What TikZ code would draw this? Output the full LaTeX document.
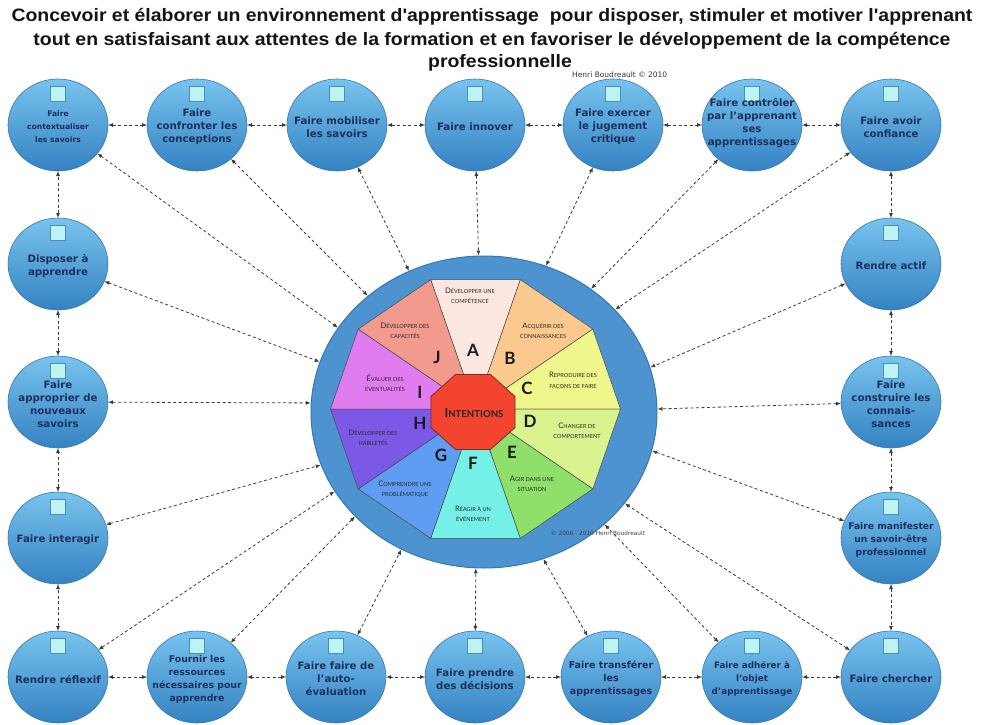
\documentclass[tikz,border=0pt]{standalone}
\usepackage{fontspec}
\setmainfont{DejaVu Sans}
\newfontfamily\titlefont{Liberation Sans}
\newfontfamily\segfont{Lato}
\usetikzlibrary{arrows.meta,shapes.geometric}
\definecolor{nodeTop}{HTML}{78C3EE}
\definecolor{nodeBot}{HTML}{3482C2}
\definecolor{nodeEdge}{HTML}{3677B3}
\definecolor{nodeText}{HTML}{1E2F5C}
\definecolor{sqFill}{HTML}{BDF3F0}
\definecolor{sqEdge}{HTML}{4A8CBE}
\definecolor{ringFill}{HTML}{4C93CF}
\definecolor{ringEdge}{HTML}{3A78B0}
\definecolor{conn}{HTML}{3C3C3C}
\definecolor{cA}{HTML}{FBE7DF}
\definecolor{cB}{HTML}{FBC98E}
\definecolor{cC}{HTML}{EEF68C}
\definecolor{cD}{HTML}{D9F38E}
\definecolor{cE}{HTML}{8EE06A}
\definecolor{cF}{HTML}{74F0E6}
\definecolor{cG}{HTML}{5E9DF2}
\definecolor{cH}{HTML}{7B58E6}
\definecolor{cI}{HTML}{E07CF0}
\definecolor{cJ}{HTML}{F29A8E}
\definecolor{cOct}{HTML}{F2442E}
\definecolor{octEdge}{HTML}{7A2A1E}
\definecolor{segLine}{HTML}{4A4A4A}
\definecolor{segText}{HTML}{2A2A2A}
\newcommand\Cp[1]{{\fontsize{7.6}{10.5}\selectfont #1}}
\newcommand\Sc[1]{{\fontsize{5.6}{10.5}\selectfont #1}}
\newcommand\Ttl[1]{\scalebox{1.08}[1]{#1}}
\newcommand\pnode[5][]{%
  \node[pn] (#2) at (#3,#4) {};
  \draw[sq] ([shift={(-7.5,-38.5)}]#2.center) rectangle ++(15,15);
  \node[ptxt,#1] (#2t) at ({#3},{#4+2}) {#5};
}
\begin{document}
\begin{tikzpicture}[x=1pt,y=-1pt,
  pn/.style={ellipse, minimum width=100, minimum height=92, inner sep=0, outer sep=0,
    top color=nodeTop, bottom color=nodeBot, draw=nodeEdge, line width=0.6},
  ptxt/.style={align=center, text=nodeText, font=\bfseries\fontsize{10.2}{13}\selectfont, inner sep=0},
  fs/.style={font=\bfseries\fontsize{#1}{13}\selectfont},
  sq/.style={fill=sqFill, draw=sqEdge, line width=0.6},
  conn/.style={draw=conn, line width=0.8, dash pattern=on 3pt off 2.5pt,
    arrows={Latex[length=5,width=4]-Latex[length=5,width=4]}},
  segtxt/.style={align=center, text=segText, font=\segfont\fontsize{5.6}{10.5}\selectfont, inner sep=0},
  letter/.style={text=black!90, font=\segfont\bfseries\fontsize{17}{17}\selectfont, inner sep=0},
  ttl/.style={font=\titlefont\bfseries\fontsize{18}{20}\selectfont, text=black!92, inner sep=0}
]
\useasboundingbox (0,0) rectangle (983,725);
\fill[white] (0,0) rectangle (983,725);

% title
\node[ttl] (t1) at (492,17) {\Ttl{Concevoir et élaborer un environnement d'apprentissage\ \ pour disposer, stimuler et motiver l'apprenant}};
\node[ttl] (t2) at (492,41) {\Ttl{tout en satisfaisant aux attentes de la formation et en favoriser le développement de la compétence}};
\node[ttl] (t3) at (500,63) {\Ttl{professionnelle}};
\node[anchor=west, inner sep=0, font=\fontsize{7.5}{9}\selectfont, text=black!80] (hb) at (572,75) {Henri Boudreault © 2010};

% central ring
\node[ellipse, minimum width=346, minimum height=312, inner sep=0, fill=ringFill, draw=ringEdge, line width=1] (ring) at (484,412) {};

% decagon
\begin{scope}[shift={(475.5,409)}, y=1pt]
  \foreach \a/\c in {72/cA,36/cB,0/cC,-36/cD,-72/cE,-108/cF,-144/cG,-180/cH,-216/cI,-252/cJ}
    \filldraw[fill=\c, draw=segLine, line width=0.5] (0,0) -- (\a:145 and 136) -- (\a+36:145 and 136) -- cycle;
\end{scope}
\begin{scope}[shift={(473,412)}, y=1pt]
  \filldraw[fill=cOct, draw=octEdge, line width=0.8]
    (22.5:45.5 and 40.6) -- (67.5:45.5 and 40.6) -- (112.5:45.5 and 40.6) -- (157.5:45.5 and 40.6)
    -- (202.5:45.5 and 40.6) -- (247.5:45.5 and 40.6) -- (292.5:45.5 and 40.6) -- (337.5:45.5 and 40.6) -- cycle;
\end{scope}
\node[inner sep=0, text=black!85, font=\segfont\bfseries] (intent) at (474,413) {{\fontsize{12.5}{12}\selectfont I}{\fontsize{9.6}{12}\selectfont NTENTIONS}};

% segment texts
\node[segtxt] (sA) at (470,296) {\Cp{D}\Sc{ÉVELOPPER UNE}\\\Sc{COMPÉTENCE}};
\node[segtxt] (sB) at (543,331) {\Cp{A}\Sc{CQUÉRIR DES}\\\Sc{CONNAISSANCES}};
\node[segtxt] (sC) at (573,381) {\Cp{R}\Sc{EPRODUIRE DES}\\\Sc{FAÇONS DE FAIRE}};
\node[segtxt] (sD) at (577,431) {\Cp{C}\Sc{HANGER DE}\\\Sc{COMPORTEMENT}};
\node[segtxt] (sE) at (532,484) {\Cp{A}\Sc{GIR DANS UNE}\\\Sc{SITUATION}};
\node[segtxt] (sF) at (473,514) {\Cp{R}\Sc{ÉAGIR À UN}\\\Sc{ÉVÉNEMENT}};
\node[segtxt] (sG) at (405,489) {\Cp{C}\Sc{OMPRENDRE UNE}\\\Sc{PROBLÉMATIQUE}};
\node[segtxt] (sH) at (373,438) {\Cp{D}\Sc{ÉVELOPPER DES}\\\Sc{HABILETÉS}};
\node[segtxt] (sI) at (385,383) {\Cp{É}\Sc{VALUER DES}\\\Sc{ÉVENTUALITÉS}};
\node[segtxt] (sJ) at (405,331) {\Cp{D}\Sc{ÉVELOPPER DES}\\\Sc{CAPACITÉS}};

% letters
\node[letter] (lA) at (473,350) {A};
\node[letter] (lB) at (510,358) {B};
\node[letter] (lC) at (527,388) {C};
\node[letter] (lD) at (530,421) {D};
\node[letter] (lE) at (512,452) {E};
\node[letter] (lF) at (473,463) {F};
\node[letter] (lG) at (441,455) {G};
\node[letter] (lH) at (420,423) {H};
\node[letter] (lI) at (420,392) {I};
\node[letter] (lJ) at (437,357) {J};

\node[inner sep=0, text=black!75, font=\fontsize{5.8}{6}\selectfont] (copy) at (598,533) {© 2006 - 2010 Henri Boudreault};

% perimeter nodes
\pnode[fs=7.6]{n1}{58}{125}{Faire\\contextualiser\\les savoirs}
\pnode{n2}{197}{125}{Faire\\confronter les\\conceptions}
\pnode{n3}{337}{125}{Faire mobiliser\\les savoirs}
\pnode{n4}{475}{125}{Faire innover}
\pnode{n5}{613}{125}{Faire exercer\\le jugement\\critique}
\pnode[yshift=4pt]{n6}{752}{125}{Faire contrôler\\par l'apprenant\\ses\\apprentissages}
\pnode{n7}{891}{125}{Faire avoir\\confiance}
\pnode{n8}{891}{264}{Rendre actif}
\pnode{n9}{891}{402}{Faire\\construire les\\connais-\\sances}
\pnode[fs=9.2]{n10}{891}{538}{Faire manifester\\un savoir-être\\professionnel}
\pnode{n11}{891}{677}{Faire chercher}
\pnode[fs=8.8]{n12}{752}{677}{Faire adhérer à\\l'objet\\d'apprentissage}
\pnode[fs=9.5]{n13}{611}{677}{Faire transférer\\les\\apprentissages}
\pnode{n14}{475}{677}{Faire prendre\\des décisions}
\pnode{n15}{336}{677}{Faire faire de\\l'auto-\\évaluation}
\pnode[fs=9.3]{n16}{197}{677}{Fournir les\\ressources\\nécessaires pour\\apprendre}
\pnode{n17}{58}{677}{Rendre réflexif}
\pnode{n18}{58}{538}{Faire interagir}
\pnode{n19}{58}{402}{Faire\\approprier de\\nouveaux\\savoirs}
\pnode{n20}{58}{264}{Disposer à\\apprendre}

% perimeter links
\foreach \a/\b in {n1/n2,n2/n3,n3/n4,n4/n5,n5/n6,n6/n7,n7/n8,n8/n9,n9/n10,n10/n11,
                   n11/n12,n12/n13,n13/n14,n14/n15,n15/n16,n16/n17,n17/n18,n18/n19,n19/n20,n20/n1}
  \draw[conn] (\a) -- (\b);

% radial links
\foreach \n/\ang in {n1/150,n2/135,n3/118,n4/92.5,n5/67.6,n6/49,n7/38.7,n8/15.8,n9/1.3,n10/-13.6,
                     n11/-33,n12/-43.8,n13/-68.7,n14/-93.3,n15/-121,n16/-141.5,n17/-152.5,n18/-162.4,n19/177.7,n20/163.2}
  \draw[conn] (\n) -- (ring.\ang);
\end{tikzpicture}
\end{document}
